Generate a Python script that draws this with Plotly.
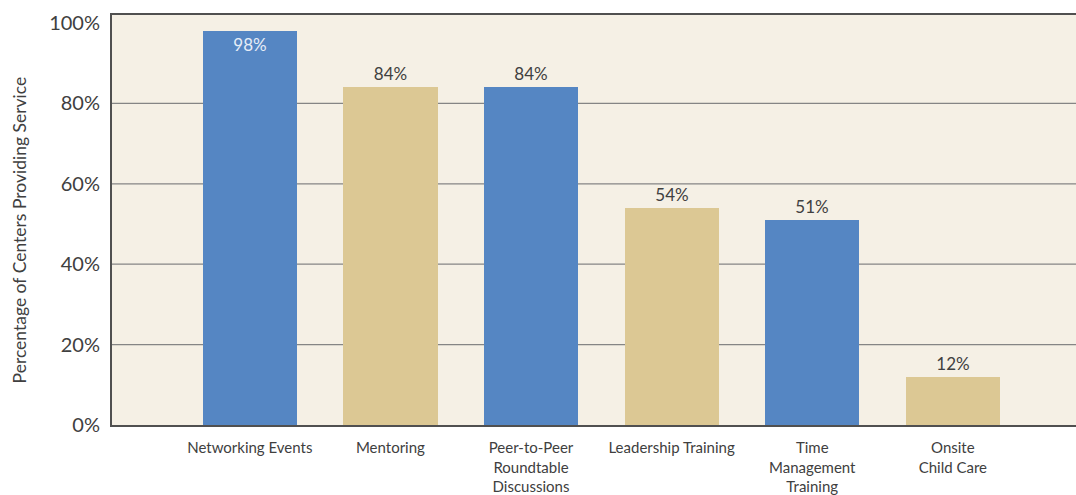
import plotly.graph_objects as go

categories = [
    "Networking Events",
    "Mentoring",
    "Peer-to-Peer<br>Roundtable<br>Discussions",
    "Leadership Training",
    "Time<br>Management<br>Training",
    "Onsite<br>Child Care",
]
values = [98, 84, 84, 54, 51, 12]
y_tick_vals = [0, 20, 40, 60, 80, 100]
y_tick_text = ["0%", "20%", "40%", "60%", "80%", "100%"]
grid_vals = [20, 40, 60, 80]

BLUE = "#5586C3"
TAN = "#DCC894"
BG = "#F5F0E5"
bar_colors = [BLUE, TAN, BLUE, TAN, BLUE, TAN]
text_positions = ["inside", "outside", "outside", "outside", "outside", "outside"]
FONT = "Lato, 'Open Sans', sans-serif"
TEXT = "#404040"

fig = go.Figure()
fig.add_trace(go.Bar(
    x=categories,
    y=values,
    width=0.67,
    marker=dict(color=bar_colors, line=dict(width=0)),
    text=[f"{v}%" for v in values],
    textposition=text_positions,
    insidetextanchor="end",
    insidetextfont=dict(family=FONT, size=17, color="#E6EDF7"),
    outsidetextfont=dict(family=FONT, size=17, color=TEXT),
    textangle=0,
    cliponaxis=False,
    hoverinfo="skip",
))

for g in grid_vals:
    fig.add_shape(type="line", xref="paper", x0=0, x1=1, yref="y", y0=g, y1=g,
                  line=dict(color="#858585", width=1.3), layer="below")

fig.add_annotation(
    text="Percentage of Centers Providing Service",
    xref="paper", yref="paper", x=-0.0965, y=0.477,
    textangle=-90, showarrow=False,
    font=dict(family=FONT, size=17.5, color=TEXT),
    xanchor="center", yanchor="middle",
)

fig.update_layout(
    width=1076, height=495,
    margin=dict(l=112, r=0, t=15, b=67),
    paper_bgcolor="white",
    plot_bgcolor=BG,
    showlegend=False,
    bargap=0,
    font=dict(family=FONT, color=TEXT),
)
fig.update_xaxes(
    type="category",
    range=[-0.98, 5.876],
    showgrid=False,
    showline=True, linecolor="#505050", linewidth=2, mirror=True,
    ticks="",
    tickfont=dict(family=FONT, size=15, color=TEXT),
    ticklabelstandoff=8,
    fixedrange=True,
)
fig.update_yaxes(
    range=[0, 102],
    tickvals=y_tick_vals, ticktext=y_tick_text,
    showgrid=False, zeroline=False,
    showline=True, linecolor="#505050", linewidth=2,
    ticks="",
    tickfont=dict(family=FONT, size=20, color=TEXT),
    ticklabelstandoff=6,
    fixedrange=True,
)

fig.write_html("out.html", config={"displayModeBar": False})
